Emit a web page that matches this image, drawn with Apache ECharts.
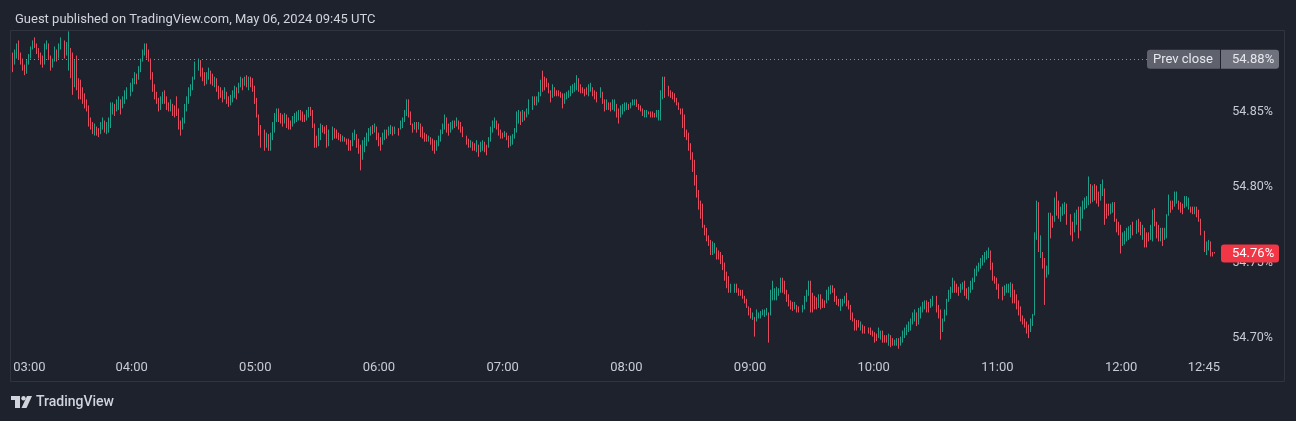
<!DOCTYPE html>
<html>
<head>
<meta charset="utf-8">
<script src="https://cdn.jsdelivr.net/npm/echarts@6/dist/echarts.min.js"></script>
<style>
html,body{margin:0;padding:0;background:#1e222d;}
#chart{width:1296px;height:421px;}
</style>
</head>
<body>
<div id="chart"></div>
<script>
const titleText = 'Guest published on TradingView.com, May 06, 2024 09:45 UTC';
const brandText = 'TradingView';
const axisStart = '03:00';
const axisEnd = '12:52';
const firstBarTime = '03:02';
const timeTickLabels = ['03:00','04:00','05:00','06:00','07:00','08:00','09:00','10:00','11:00','12:00','12:45'];
const priceTickValues = [54.70, 54.75, 54.80, 54.85];
const priceMin = 54.6895;
const priceMax = 54.9039;
const prevClose = 54.8845;
const prevCloseLabel = 'Prev close';

const opens = [
54.889,54.881,54.885,54.897,54.889,54.885,54.881,54.875,54.881,54.885,
54.891,54.899,54.895,54.892,54.889,54.887,54.881,54.891,54.895,54.887,
54.879,54.883,54.891,54.885,54.891,54.897,54.887,54.877,54.892,54.889,
54.866,54.887,54.872,54.871,54.866,54.862,54.858,54.854,54.846,54.843,
54.834,54.840,54.839,54.835,54.838,54.844,54.835,54.836,54.839,54.848,
54.855,54.850,54.851,54.858,54.852,54.855,54.858,54.860,54.863,54.868,
54.875,54.871,54.876,54.883,54.887,54.895,54.891,54.885,54.876,54.868,
54.863,54.859,54.851,54.855,54.864,54.860,54.856,54.850,54.855,54.854,
54.860,54.852,54.844,54.838,54.842,54.850,54.855,54.860,54.864,54.871,
54.877,54.884,54.879,54.876,54.868,54.871,54.877,54.875,54.866,54.872,
54.867,54.866,54.864,54.858,54.863,54.860,54.854,54.856,54.859,54.866,
54.862,54.866,54.872,54.867,54.874,54.864,54.873,54.872,54.867,54.859,
54.848,54.841,54.838,54.826,54.835,54.824,54.831,54.836,54.843,54.852,
54.849,54.848,54.842,54.848,54.846,54.844,54.840,54.842,54.843,54.844,
54.851,54.850,54.848,54.844,54.846,54.853,54.851,54.842,54.834,54.827,
54.831,54.841,54.840,54.841,54.827,54.831,54.839,54.838,54.836,54.835,
54.830,54.833,54.832,54.832,54.831,54.827,54.831,54.835,54.832,54.828,
54.818,54.823,54.827,54.830,54.834,54.841,54.836,54.840,54.836,54.833,
54.828,54.831,54.838,54.834,54.835,54.840,54.835,54.839,54.838,54.839,
54.843,54.847,54.858,54.850,54.842,54.838,54.843,54.838,54.842,54.840,
54.836,54.835,54.830,54.833,54.832,54.831,54.824,54.827,54.830,54.835,
54.838,54.846,54.842,54.836,54.838,54.844,54.840,54.844,54.843,54.840,
54.834,54.832,54.826,54.830,54.829,54.823,54.828,54.823,54.824,54.830,
54.828,54.826,54.830,54.836,54.839,54.844,54.842,54.838,54.836,54.833,
54.836,54.834,54.827,54.828,54.832,54.836,54.842,54.850,54.843,54.850,
54.846,54.848,54.851,54.860,54.854,54.856,54.860,54.877,54.873,54.872,
54.869,54.864,54.859,54.866,54.864,54.864,54.863,54.862,54.855,54.858,
54.859,54.860,54.862,54.863,54.864,54.872,54.868,54.866,54.865,54.866,
54.860,54.863,54.866,54.864,54.863,54.859,54.863,54.858,54.851,54.856,
54.856,54.851,54.850,54.855,54.852,54.846,54.848,54.850,54.851,54.855,
54.852,54.854,54.854,54.858,54.855,54.854,54.852,54.846,54.846,54.850,
54.850,54.850,54.849,54.846,54.844,54.844,54.858,54.873,54.867,54.864,
54.863,54.862,54.859,54.856,54.852,54.852,54.848,54.838,54.836,54.829,
54.823,54.818,54.808,54.798,54.791,54.789,54.775,54.773,54.768,54.765,
54.755,54.756,54.760,54.758,54.757,54.755,54.750,54.744,54.741,54.730,
54.730,54.736,54.733,54.732,54.732,54.728,54.726,54.721,54.720,54.712,
54.714,54.711,54.713,54.713,54.715,54.714,54.715,54.717,54.715,54.725,
54.725,54.725,54.728,54.730,54.740,54.738,54.732,54.729,54.725,54.724,
54.719,54.722,54.721,54.717,54.719,54.724,54.728,54.738,54.730,54.728,
54.727,54.720,54.729,54.726,54.725,54.723,54.725,54.729,54.735,54.733,
54.728,54.726,54.718,54.721,54.723,54.730,54.725,54.722,54.717,54.713,
54.712,54.712,54.705,54.709,54.708,54.707,54.707,54.705,54.704,54.703,
54.700,54.699,54.705,54.702,54.702,54.695,54.702,54.700,54.695,54.695,
54.700,54.695,54.697,54.700,54.702,54.704,54.705,54.709,54.711,54.717,
54.709,54.713,54.717,54.719,54.725,54.724,54.720,54.721,54.728,54.722,
54.719,54.704,54.711,54.715,54.724,54.726,54.730,54.738,54.736,54.734,
54.730,54.732,54.738,54.733,54.725,54.730,54.732,54.737,54.741,54.744,
54.746,54.748,54.750,54.752,54.753,54.758,54.750,54.741,54.740,54.736,
54.734,54.728,54.730,54.730,54.727,54.736,54.732,54.729,54.725,54.721,
54.715,54.713,54.711,54.709,54.704,54.708,54.715,54.765,54.790,54.753,
54.757,54.753,54.740,54.742,54.783,54.781,54.777,54.797,54.791,54.777,
54.781,54.782,54.789,54.782,54.777,54.770,54.775,54.787,54.771,54.779,
54.785,54.786,54.788,54.802,54.790,54.802,54.801,54.797,54.791,54.794,
54.799,54.789,54.789,54.782,54.783,54.790,54.779,54.777,54.775,54.761,
54.762,54.764,54.765,54.766,54.777,54.769,54.779,54.777,54.765,54.773,
54.770,54.770,54.765,54.764,54.786,54.777,54.775,54.764,54.773,54.765,
54.766,54.781,54.791,54.791,54.787,54.789,54.791,54.790,54.789,54.786,
54.787,54.785,54.787,54.787,54.782,54.787,54.785,54.779,54.771,54.755,
54.758,54.764,54.757,54.757
];

const highs = [
54.889,54.891,54.895,54.897,54.889,54.885,54.881,54.884,54.888,54.893,
54.897,54.899,54.895,54.892,54.889,54.887,54.895,54.897,54.895,54.887,
54.885,54.893,54.891,54.895,54.899,54.897,54.896,54.903,54.892,54.889,
54.884,54.887,54.872,54.871,54.866,54.862,54.858,54.854,54.846,54.843,
54.842,54.840,54.839,54.843,54.846,54.844,54.843,54.846,54.856,54.856,
54.855,54.858,54.860,54.858,54.860,54.864,54.866,54.869,54.872,54.876,
54.875,54.880,54.885,54.891,54.895,54.895,54.891,54.885,54.876,54.868,
54.863,54.859,54.860,54.863,54.864,54.860,54.856,54.858,54.855,54.854,
54.860,54.852,54.844,54.846,54.855,54.860,54.866,54.868,54.873,54.883,
54.885,54.884,54.879,54.876,54.876,54.879,54.877,54.875,54.873,54.872,
54.867,54.866,54.864,54.866,54.863,54.860,54.861,54.864,54.867,54.866,
54.869,54.873,54.872,54.873,54.874,54.873,54.873,54.872,54.867,54.859,
54.848,54.841,54.838,54.836,54.835,54.836,54.843,54.849,54.852,54.852,
54.849,54.848,54.849,54.848,54.846,54.844,54.847,54.849,54.850,54.851,
54.851,54.850,54.848,54.851,54.853,54.853,54.851,54.842,54.834,54.839,
54.842,54.841,54.840,54.841,54.838,54.840,54.839,54.838,54.836,54.835,
54.834,54.833,54.832,54.832,54.831,54.836,54.838,54.835,54.832,54.828,
54.831,54.833,54.836,54.839,54.840,54.841,54.842,54.840,54.836,54.833,
54.836,54.838,54.838,54.840,54.841,54.840,54.840,54.839,54.844,54.846,
54.851,54.858,54.858,54.850,54.842,54.843,54.843,54.843,54.842,54.840,
54.836,54.835,54.834,54.833,54.832,54.831,54.831,54.834,54.838,54.842,
54.848,54.846,54.842,54.843,54.844,54.844,54.846,54.844,54.843,54.840,
54.834,54.832,54.831,54.830,54.829,54.831,54.828,54.830,54.831,54.830,
54.828,54.833,54.840,54.844,54.846,54.844,54.842,54.838,54.836,54.837,
54.836,54.834,54.834,54.835,54.839,54.850,54.851,54.850,54.851,54.850,
54.852,54.858,54.860,54.860,54.860,54.863,54.871,54.877,54.873,54.872,
54.869,54.864,54.868,54.866,54.864,54.864,54.863,54.862,54.862,54.863,
54.864,54.867,54.868,54.869,54.874,54.872,54.868,54.866,54.865,54.866,
54.868,54.869,54.866,54.864,54.863,54.866,54.863,54.858,54.858,54.856,
54.856,54.858,54.858,54.855,54.852,54.854,54.855,54.856,54.856,54.855,
54.856,54.858,54.858,54.858,54.855,54.854,54.852,54.851,54.851,54.850,
54.850,54.850,54.849,54.851,54.851,54.864,54.873,54.873,54.867,54.864,
54.863,54.862,54.859,54.856,54.852,54.852,54.848,54.838,54.836,54.829,
54.823,54.818,54.808,54.798,54.791,54.789,54.775,54.773,54.768,54.765,
54.764,54.763,54.760,54.758,54.757,54.755,54.750,54.744,54.741,54.736,
54.736,54.736,54.733,54.732,54.732,54.728,54.726,54.721,54.720,54.717,
54.714,54.719,54.717,54.718,54.719,54.719,54.720,54.717,54.732,54.738,
54.733,54.734,54.733,54.740,54.740,54.738,54.732,54.729,54.725,54.724,
54.724,54.722,54.721,54.722,54.728,54.732,54.738,54.738,54.730,54.728,
54.727,54.729,54.729,54.726,54.725,54.732,54.734,54.735,54.735,54.733,
54.728,54.726,54.726,54.726,54.728,54.730,54.725,54.722,54.717,54.713,
54.712,54.712,54.711,54.709,54.708,54.707,54.707,54.705,54.704,54.703,
54.707,54.705,54.705,54.702,54.702,54.703,54.702,54.700,54.699,54.700,
54.700,54.701,54.705,54.707,54.709,54.711,54.713,54.717,54.719,54.717,
54.720,54.721,54.724,54.725,54.725,54.724,54.726,54.728,54.728,54.722,
54.719,54.713,54.719,54.726,54.732,54.734,54.740,54.738,54.736,54.734,
54.736,54.737,54.738,54.733,54.734,54.738,54.740,54.746,54.748,54.750,
54.753,54.755,54.757,54.758,54.760,54.758,54.750,54.741,54.740,54.736,
54.734,54.735,54.736,54.736,54.737,54.736,54.732,54.729,54.725,54.721,
54.715,54.713,54.711,54.709,54.713,54.716,54.770,54.791,54.790,54.768,
54.757,54.753,54.748,54.783,54.783,54.781,54.793,54.797,54.791,54.787,
54.789,54.790,54.789,54.782,54.777,54.783,54.785,54.787,54.787,54.791,
54.793,54.794,54.807,54.802,54.801,54.802,54.801,54.797,54.802,54.805,
54.799,54.789,54.789,54.789,54.790,54.790,54.779,54.777,54.775,54.770,
54.771,54.773,54.774,54.775,54.777,54.778,54.779,54.777,54.775,54.773,
54.770,54.770,54.775,54.785,54.786,54.777,54.775,54.773,54.773,54.773,
54.782,54.795,54.791,54.791,54.797,54.797,54.791,54.790,54.789,54.794,
54.794,54.793,54.787,54.787,54.787,54.787,54.785,54.779,54.771,54.764,
54.765,54.764,54.757,54.757
];

const lows = [
54.876,54.881,54.885,54.884,54.881,54.877,54.874,54.875,54.881,54.885,
54.891,54.892,54.888,54.885,54.881,54.879,54.881,54.891,54.884,54.877,
54.879,54.883,54.883,54.885,54.891,54.885,54.887,54.877,54.872,54.861,
54.866,54.864,54.858,54.858,54.855,54.852,54.850,54.840,54.838,54.835,
54.834,54.834,54.833,54.835,54.838,54.836,54.835,54.836,54.839,54.848,
54.847,54.850,54.851,54.848,54.852,54.855,54.858,54.860,54.863,54.868,
54.868,54.871,54.876,54.883,54.887,54.885,54.883,54.871,54.863,54.858,
54.855,54.850,54.851,54.855,54.855,54.851,54.850,54.850,54.847,54.846,
54.847,54.838,54.834,54.838,54.842,54.850,54.855,54.860,54.864,54.871,
54.877,54.873,54.870,54.867,54.868,54.871,54.868,54.867,54.866,54.863,
54.858,54.859,54.856,54.858,54.855,54.853,54.854,54.856,54.859,54.858,
54.862,54.866,54.864,54.867,54.866,54.864,54.866,54.863,54.855,54.846,
54.834,54.826,54.824,54.826,54.824,54.824,54.831,54.836,54.843,54.843,
54.842,54.840,54.842,54.839,54.838,54.838,54.840,54.842,54.843,54.844,
54.844,54.843,54.843,54.844,54.846,54.847,54.839,54.826,54.826,54.827,
54.831,54.836,54.835,54.826,54.827,54.831,54.832,54.832,54.831,54.830,
54.830,54.830,54.828,54.824,54.824,54.827,54.831,54.826,54.822,54.811,
54.818,54.823,54.827,54.830,54.834,54.835,54.836,54.831,54.827,54.824,
54.828,54.831,54.832,54.834,54.835,54.834,54.835,54.834,54.838,54.839,
54.843,54.847,54.846,54.841,54.836,54.838,54.836,54.838,54.833,54.832,
54.830,54.830,54.830,54.828,54.824,54.822,54.824,54.827,54.830,54.835,
54.838,54.836,54.834,54.836,54.838,54.839,54.840,54.838,54.836,54.833,
54.828,54.826,54.826,54.824,54.824,54.823,54.820,54.823,54.824,54.823,
54.821,54.826,54.830,54.836,54.839,54.838,54.834,54.832,54.832,54.833,
54.831,54.826,54.827,54.828,54.832,54.836,54.842,54.841,54.843,54.844,
54.846,54.848,54.851,54.854,54.854,54.856,54.860,54.863,54.864,54.866,
54.862,54.856,54.859,54.860,54.860,54.860,54.859,54.852,54.855,54.858,
54.859,54.860,54.862,54.863,54.864,54.863,54.862,54.862,54.860,54.861,
54.860,54.863,54.860,54.858,54.856,54.859,54.855,54.850,54.851,54.851,
54.850,54.851,54.850,54.846,54.842,54.846,54.848,54.850,54.851,54.851,
54.852,54.854,54.854,54.853,54.851,54.850,54.847,54.846,54.846,54.848,
54.846,54.846,54.846,54.846,54.844,54.844,54.858,54.859,54.860,54.859,
54.858,54.856,54.854,54.851,54.848,54.839,54.833,54.831,54.824,54.818,
54.810,54.801,54.793,54.785,54.779,54.773,54.768,54.764,54.761,54.755,
54.755,54.756,54.752,54.752,54.749,54.745,54.738,54.733,54.730,54.730,
54.730,54.730,54.728,54.728,54.726,54.723,54.720,54.715,54.713,54.712,
54.701,54.711,54.713,54.713,54.715,54.714,54.715,54.697,54.715,54.725,
54.725,54.725,54.728,54.730,54.730,54.729,54.724,54.721,54.719,54.718,
54.719,54.717,54.717,54.717,54.719,54.724,54.728,54.717,54.717,54.719,
54.719,54.720,54.719,54.720,54.720,54.723,54.725,54.729,54.730,54.724,
54.722,54.721,54.718,54.721,54.723,54.721,54.719,54.712,54.711,54.705,
54.705,54.707,54.705,54.703,54.703,54.703,54.702,54.701,54.697,54.698,
54.700,54.699,54.697,54.697,54.697,54.695,54.694,54.695,54.695,54.695,
54.693,54.695,54.697,54.700,54.702,54.704,54.705,54.709,54.711,54.708,
54.709,54.713,54.717,54.719,54.717,54.717,54.720,54.721,54.717,54.713,
54.699,54.704,54.711,54.715,54.724,54.726,54.730,54.730,54.730,54.728,
54.730,54.732,54.728,54.726,54.725,54.730,54.732,54.737,54.741,54.744,
54.746,54.748,54.750,54.752,54.753,54.745,54.738,54.736,54.732,54.726,
54.725,54.728,54.730,54.730,54.727,54.723,54.723,54.719,54.715,54.711,
54.709,54.707,54.703,54.700,54.704,54.708,54.715,54.765,54.757,54.753,
54.746,54.722,54.740,54.742,54.766,54.773,54.777,54.781,54.779,54.777,
54.781,54.782,54.775,54.768,54.764,54.770,54.775,54.766,54.771,54.779,
54.785,54.786,54.788,54.789,54.790,54.791,54.789,54.787,54.791,54.794,
54.775,54.779,54.781,54.782,54.783,54.777,54.770,54.768,54.756,54.761,
54.762,54.764,54.765,54.766,54.768,54.769,54.770,54.768,54.765,54.760,
54.760,54.764,54.765,54.764,54.774,54.766,54.764,54.764,54.761,54.765,
54.766,54.781,54.783,54.785,54.787,54.789,54.785,54.783,54.782,54.786,
54.787,54.785,54.783,54.782,54.782,54.780,54.777,54.768,54.757,54.755,
54.758,54.754,54.754,54.756
];

const closes = [
54.876,54.891,54.895,54.884,54.881,54.877,54.874,54.884,54.888,54.893,
54.897,54.892,54.888,54.885,54.881,54.879,54.895,54.897,54.884,54.877,
54.885,54.893,54.883,54.895,54.899,54.885,54.896,54.903,54.872,54.861,
54.884,54.864,54.858,54.858,54.855,54.852,54.850,54.840,54.838,54.835,
54.842,54.834,54.833,54.843,54.846,54.836,54.843,54.846,54.856,54.856,
54.847,54.858,54.860,54.848,54.860,54.864,54.866,54.869,54.872,54.876,
54.868,54.880,54.885,54.891,54.895,54.885,54.883,54.871,54.863,54.858,
54.855,54.850,54.860,54.863,54.855,54.851,54.850,54.858,54.847,54.846,
54.847,54.838,54.834,54.846,54.855,54.860,54.866,54.868,54.873,54.883,
54.885,54.873,54.870,54.867,54.876,54.879,54.868,54.867,54.873,54.863,
54.858,54.859,54.856,54.866,54.855,54.853,54.861,54.864,54.867,54.858,
54.869,54.873,54.864,54.873,54.866,54.873,54.866,54.863,54.855,54.846,
54.834,54.826,54.824,54.836,54.824,54.836,54.843,54.849,54.852,54.843,
54.842,54.840,54.849,54.839,54.838,54.838,54.847,54.849,54.850,54.851,
54.844,54.843,54.843,54.851,54.853,54.847,54.839,54.826,54.826,54.839,
54.842,54.836,54.835,54.826,54.838,54.840,54.832,54.832,54.831,54.830,
54.834,54.830,54.828,54.824,54.824,54.836,54.838,54.826,54.822,54.811,
54.831,54.833,54.836,54.839,54.840,54.835,54.842,54.831,54.827,54.824,
54.836,54.838,54.832,54.840,54.841,54.834,54.840,54.834,54.844,54.846,
54.851,54.858,54.846,54.841,54.836,54.843,54.836,54.843,54.833,54.832,
54.830,54.830,54.834,54.828,54.824,54.822,54.831,54.834,54.838,54.842,
54.848,54.836,54.834,54.843,54.844,54.839,54.846,54.838,54.836,54.833,
54.828,54.826,54.831,54.824,54.824,54.831,54.820,54.830,54.831,54.823,
54.821,54.833,54.840,54.844,54.846,54.838,54.834,54.832,54.832,54.837,
54.831,54.826,54.834,54.835,54.839,54.850,54.851,54.841,54.851,54.844,
54.852,54.858,54.860,54.854,54.860,54.863,54.871,54.863,54.864,54.866,
54.862,54.856,54.868,54.860,54.860,54.860,54.859,54.852,54.862,54.863,
54.864,54.867,54.868,54.869,54.874,54.863,54.862,54.862,54.860,54.861,
54.868,54.869,54.860,54.858,54.856,54.866,54.855,54.850,54.858,54.851,
54.850,54.858,54.858,54.846,54.842,54.854,54.855,54.856,54.856,54.851,
54.856,54.858,54.858,54.853,54.851,54.850,54.847,54.851,54.851,54.848,
54.846,54.846,54.846,54.851,54.851,54.864,54.873,54.859,54.860,54.859,
54.858,54.856,54.854,54.851,54.848,54.839,54.833,54.831,54.824,54.818,
54.810,54.801,54.793,54.785,54.779,54.773,54.768,54.764,54.761,54.755,
54.764,54.763,54.752,54.752,54.749,54.745,54.738,54.733,54.730,54.736,
54.736,54.730,54.728,54.728,54.726,54.723,54.720,54.715,54.713,54.717,
54.701,54.719,54.717,54.718,54.719,54.719,54.720,54.697,54.732,54.738,
54.733,54.734,54.733,54.740,54.730,54.729,54.724,54.721,54.719,54.718,
54.724,54.717,54.717,54.722,54.728,54.732,54.738,54.717,54.717,54.719,
54.719,54.729,54.719,54.720,54.720,54.732,54.734,54.735,54.730,54.724,
54.722,54.721,54.726,54.726,54.728,54.721,54.719,54.712,54.711,54.705,
54.705,54.707,54.711,54.703,54.703,54.703,54.702,54.701,54.697,54.698,
54.707,54.705,54.697,54.697,54.697,54.703,54.694,54.695,54.699,54.700,
54.693,54.701,54.705,54.707,54.709,54.711,54.713,54.717,54.719,54.708,
54.720,54.721,54.724,54.725,54.717,54.717,54.726,54.728,54.717,54.713,
54.699,54.713,54.719,54.726,54.732,54.734,54.740,54.730,54.730,54.728,
54.736,54.737,54.728,54.726,54.734,54.738,54.740,54.746,54.748,54.750,
54.753,54.755,54.757,54.758,54.760,54.745,54.738,54.736,54.732,54.726,
54.725,54.735,54.736,54.736,54.737,54.723,54.723,54.719,54.715,54.711,
54.709,54.707,54.703,54.700,54.713,54.716,54.770,54.791,54.757,54.768,
54.746,54.722,54.748,54.783,54.766,54.773,54.793,54.781,54.779,54.787,
54.789,54.790,54.775,54.768,54.764,54.783,54.785,54.766,54.787,54.791,
54.793,54.794,54.807,54.789,54.801,54.791,54.789,54.787,54.802,54.805,
54.775,54.779,54.781,54.789,54.790,54.777,54.770,54.768,54.756,54.770,
54.771,54.773,54.774,54.775,54.768,54.778,54.770,54.768,54.775,54.760,
54.760,54.764,54.775,54.785,54.774,54.766,54.764,54.773,54.761,54.773,
54.782,54.795,54.783,54.785,54.797,54.797,54.785,54.783,54.782,54.794,
54.794,54.793,54.783,54.782,54.787,54.780,54.777,54.768,54.757,54.764,
54.765,54.754,54.754,54.756
];

const UP = '#1f9e89';
const DOWN = '#e14c5f';
const TEXT = '#c8cbd3';
const FONT = 'Roboto, "Noto Sans", sans-serif';

const toMin = s => { const p = s.split(':'); return (+p[0]) * 60 + (+p[1]); };
const toLabel = n => String(Math.floor(n / 60)).padStart(2, '0') + ':' + String(n % 60).padStart(2, '0');

const axisCategories = [];
for (let n = toMin(axisStart); n <= toMin(axisEnd); n++) axisCategories.push(toLabel(n));
const firstIdx = toMin(firstBarTime) - toMin(axisStart);
const candleData = closes.map((c, i) => [firstIdx + i, opens[i], c, lows[i], highs[i]]);

// Each one-minute candle: a crisp 1px bar from low to high, coloured by direction,
// placed through the chart's own category/value axes (snapped to the pixel grid).
function renderCandle(params, api) {
  const x = api.value(0);
  const o = api.value(1), c = api.value(2), l = api.value(3), h = api.value(4);
  const pl = api.coord([x, l]);
  const ph = api.coord([x, h]);
  const col = 2 * Math.round((pl[0] - 0.5) / 2);
  const px = col + 0.5;
  let y1 = ph[1], y2 = pl[1];
  if (y2 - y1 < 1.5) { const m = (y1 + y2) / 2; y1 = m - 0.75; y2 = m + 0.75; }
  return {
    type: 'line',
    shape: { x1: px, y1: y1, x2: px, y2: y2 },
    style: { stroke: c >= o ? UP : DOWN, lineWidth: 1 }
  };
}

const chart = echarts.init(document.getElementById('chart'), null, { renderer: 'canvas' });
const firstTick = timeTickLabels[0];
const lastTick = timeTickLabels[timeTickLabels.length - 1];

chart.setOption({
  backgroundColor: '#1e222d',
  animation: false,
  title: {
    text: titleText, left: 10, top: 8,
    textStyle: { color: '#d1d4dc', fontSize: 13, fontWeight: 'normal', fontFamily: FONT }
  },
  grid: { left: 6.87, right: 66.7, top: 30, bottom: 67 },
  xAxis: {
    type: 'category', data: axisCategories, boundaryGap: true,
    axisLine: { show: false }, axisTick: { show: false }, splitLine: { show: false },
    axisLabel: {
      interval: (i, v) => timeTickLabels.indexOf(v) >= 0,
      formatter: v => v === firstTick ? '{first|' + v + '}' : (v === lastTick ? '{last|' + v + '}' : v),
      color: TEXT, fontSize: 13, fontFamily: FONT, margin: 7,
      rich: {
        first: { color: TEXT, fontSize: 13, fontFamily: FONT, padding: [0, 0, 0, 43] },
        last: { color: TEXT, fontSize: 13, fontFamily: FONT, padding: [0, 20, 0, 0] }
      }
    }
  },
  yAxis: {
    type: 'value', position: 'right', min: priceMin, max: priceMax,
    axisLine: { show: false }, axisTick: { show: false }, splitLine: { show: false },
    axisLabel: {
      customValues: priceTickValues,
      formatter: v => v.toFixed(2) + '%',
      color: TEXT, fontSize: 12.5, fontFamily: FONT, margin: 3, align: 'left'
    }
  },
  series: [{
    type: 'custom', name: 'Yield', clip: true, z: 2,
    renderItem: renderCandle,
    data: candleData,
    encode: { x: 0, y: [1, 2, 3, 4] }
  }]
});

const yPrev = chart.convertToPixel({ yAxisIndex: 0 }, prevClose);
const lastClose = closes[closes.length - 1];
const yLast = chart.convertToPixel({ yAxisIndex: 0 }, lastClose);
const labelFont = '13px ' + FONT;
const T = (x, y, text, fill, font) => ({ type: 'text', z: 102, silent: true, x: x, y: y,
  style: { text: text, fill: fill, font: font, textAlign: 'left', textVerticalAlign: 'middle', align: 'left', verticalAlign: 'middle' } });

chart.setOption({
  graphic: [
    { type: 'line', z: 0, silent: true, shape: { x1: 10, y1: Math.round(yPrev) + 0.5, x2: 1147, y2: Math.round(yPrev) + 0.5 }, style: { stroke: '#8c909b', lineWidth: 1, lineDash: [1, 3] } },
    { type: 'rect', z: 100, silent: true, shape: { x: 10.5, y: 30.5, width: 1274, height: 351 }, style: { fill: null, stroke: '#30343f', lineWidth: 1 } },
    { type: 'rect', z: 101, silent: true, shape: { x: 1147, y: yPrev - 9.5, width: 73, height: 19, r: [3, 0, 0, 3] }, style: { fill: '#5f626d' } },
    T(1153, yPrev, prevCloseLabel, '#e6e8ee', labelFont),
    { type: 'rect', z: 101, silent: true, shape: { x: 1221, y: yPrev - 9.5, width: 58, height: 19, r: [0, 3, 3, 0] }, style: { fill: '#6f727d' } },
    T(1232, yPrev, prevClose.toFixed(2) + '%', '#e6e8ee', labelFont),
    { type: 'rect', z: 101, silent: true, shape: { x: 1221, y: yLast - 9, width: 58, height: 18, r: 3 }, style: { fill: '#f23645' } },
    T(1232, yLast, lastClose.toFixed(2) + '%', '#ffffff', labelFont),
    { type: 'polygon', z: 100, silent: true, shape: { points: [[11, 396], [20, 396], [20, 408], [15, 408], [15, 400], [11, 400]] }, style: { fill: '#d1d4dc' } },
    { type: 'circle', z: 100, silent: true, shape: { cx: 23.5, cy: 398.3, r: 2.2 }, style: { fill: '#d1d4dc' } },
    { type: 'polygon', z: 100, silent: true, shape: { points: [[27, 396], [32, 396], [26.5, 408], [21.5, 408]] }, style: { fill: '#d1d4dc' } },
    T(36, 402, brandText, '#d1d4dc', '500 14px ' + FONT)
  ]
});
</script>
</body>
</html>
